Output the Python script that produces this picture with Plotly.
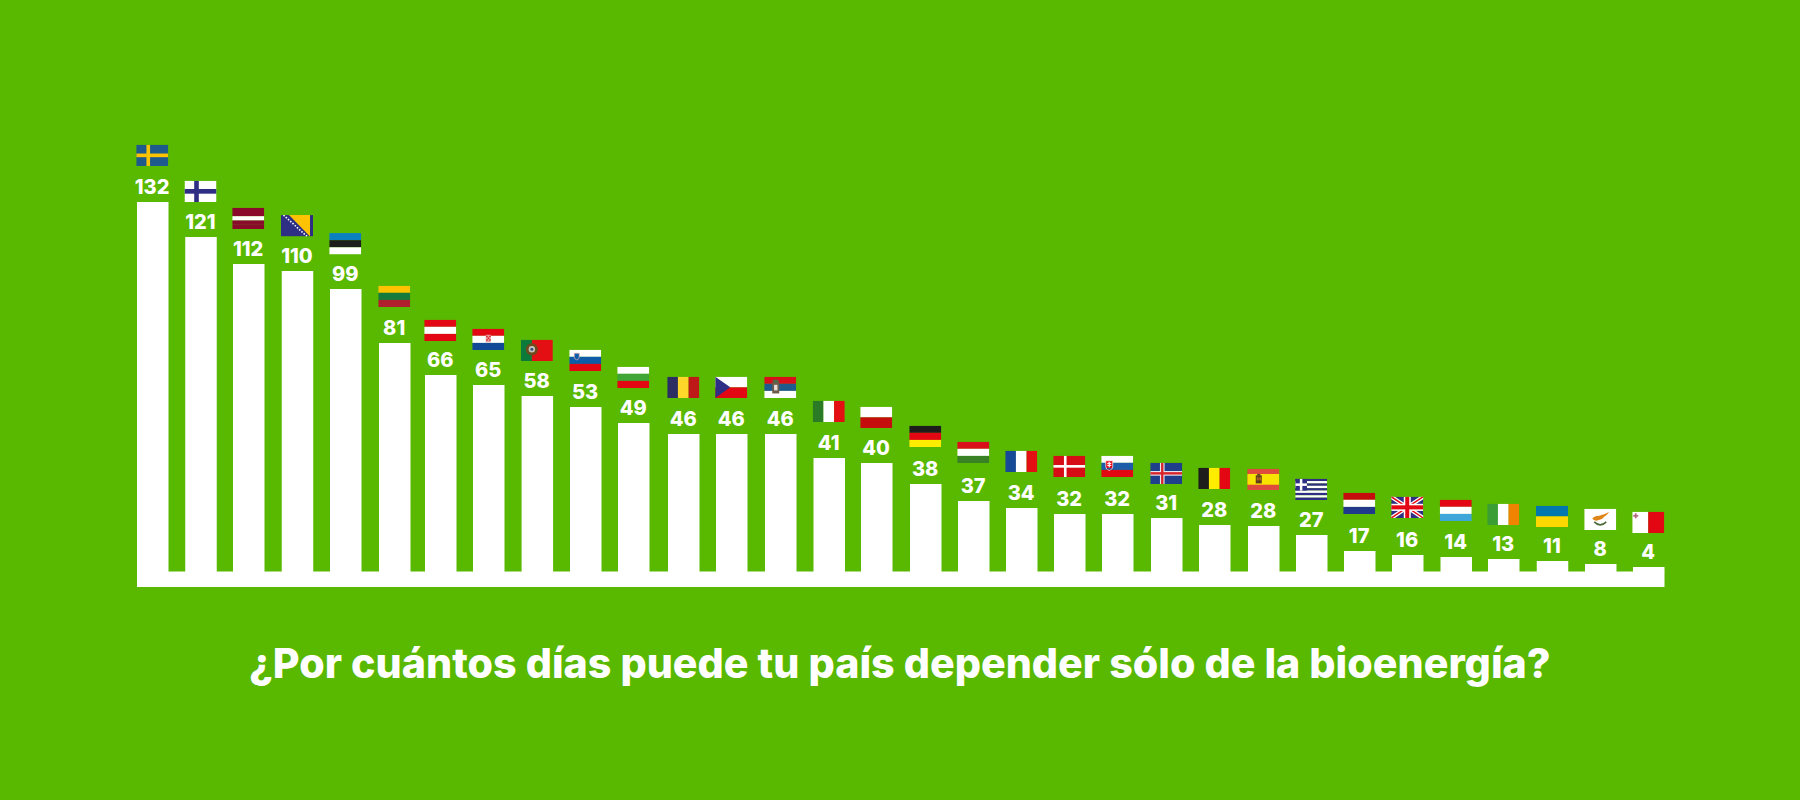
import base64
import plotly.graph_objects as go

# ---- data ----
countries = ["SE", "FI", "LV", "BA", "EE", "LT", "AT", "HR", "PT", "SI", "BG", "RO", "CZ", "RS", "IT", "PL",
             "DE", "HU", "FR", "DK", "SK", "IS", "BE", "ES", "GR", "NL", "GB", "LU", "IE", "UA", "CY", "MT"]
days = [132, 121, 112, 110, 99, 81, 66, 65, 58, 53, 49, 46, 46, 46, 41, 40,
        38, 37, 34, 32, 32, 31, 28, 28, 27, 17, 16, 14, 13, 11, 8, 4]
# the bars of the source are hand-drawn, not to scale: drawn height of each bar
drawn_height = [370, 335, 308, 301, 283, 229, 197, 187, 176, 165, 149, 138, 138, 138, 114, 109,
                88, 71, 64, 58, 58, 54, 47, 46, 37, 21, 17, 15, 13, 11, 8, 5]
title = "¿Por cuántos días puede tu país depender sólo de la bioenergía?"

# ---- hand placement of the source (the slots are not perfectly even) ----
flag_gap = [36, 35, 35, 34.6, 34.6, 36, 34, 35, 35, 36, 35, 36, 36, 36, 36, 35,
            37, 38, 36, 37, 37, 34, 36, 36, 35, 37, 37, 36, 34, 34, 34, 34]
slot_nudge = [0, 0, -0.5, 0, 0, 0.75, -1.5, -1.75, -1.4, -1.25, -1.5, 0.25, 0, 0.75, 1, 0.25,
              1, 0.75, 0.5, 0.25, 0, 0.75, 0.5, 1.25, 1, 0.75, 0.5, 0.75, 0, 0.5, 0.5, 0.25]

GREEN = "#59B800"
WHITE = "#FFFFFF"
W, H = 32, 21


def r(x, y, w, h, c):
    return f'<rect x="{x}" y="{y}" width="{w}" height="{h}" fill="{c}"/>'


def hbands(*cols):
    h = H / len(cols)
    return "".join(r(0, i * h, W, h + 0.05, c) for i, c in enumerate(cols))


def vbands(*cols):
    w = W / len(cols)
    return "".join(r(i * w, 0, w + 0.05, H, c) for i, c in enumerate(cols))


def nordic(bg, cross, thick=4, inner=None):
    s = r(0, 0, W, H, bg)
    cy = H / 2
    s += r(12 - thick / 2, 0, thick, H, cross) + r(0, cy - thick / 2, W, thick, cross)
    if inner:
        s += r(10.8, 0, 2.4, H, inner) + r(0, cy - 1.2, W, 2.4, inner)
    return s


def shield(x, y, w, h, fill, stroke="#ffffff"):
    return (f'<path d="M{x} {y}h{w}v{h * 0.6}q0 {h * 0.3} {-w / 2} {h * 0.4}q{-w / 2} {-h * 0.1} {-w / 2} {-h * 0.4}z" '
            f'fill="{fill}" stroke="{stroke}" stroke-width="0.7"/>')


FLAGS = {
    "SE": nordic("#1F5A8C", "#FDC300", 3.6),
    "FI": nordic("#FFFFFF", "#2E2E84", 4.6),
    "LV": hbands("#8A0A2B", "#8A0A2B", "#FFFFFF", "#8A0A2B", "#8A0A2B"),
    "BA": r(0, 0, W, H, "#2E2E84")
          + '<path d="M8 0H29V21z" fill="#FDC300"/>'
          + '<path d="M2.500 0L26 21" stroke="#fff" stroke-width="1.6" stroke-dasharray="1.5 1.5"/>',
    "EE": hbands("#0A80BF", "#1D1D1B", "#FFFFFF"),
    "LT": hbands("#FDC300", "#157A3C", "#B01F2E"),
    "AT": hbands("#E30613", "#FFFFFF", "#E30613"),
    "HR": hbands("#E30613", "#FFFFFF", "#124A98")
          + r(13.5, 6, 5, 7.5, "#E8A0A0") + r(14, 7, 1.4, 1.4, "#D9101A") + r(17, 7, 1.4, 1.4, "#D9101A")
          + r(15.5, 8.7, 1.4, 1.4, "#D9101A") + r(14, 10.4, 1.4, 1.4, "#D9101A") + r(17, 10.4, 1.4, 1.4, "#D9101A"),
    "PT": r(0, 0, 11, H, "#0B7A3B") + r(11, 0, 21, H, "#E30F13")
          + '<circle cx="11" cy="9.500" r="6" fill="#6E4A1E"/><circle cx="11" cy="9.500" r="3.2" fill="#C8C4BC"/>'
          + '<circle cx="11" cy="9.500" r="1.5" fill="#3E4E74"/>',
    "SI": hbands("#FFFFFF", "#0E5BA8", "#E30613") + shield(5, 3.5, 5, 6.5, "#0E5BA8", "#E8B0B0"),
    "BG": hbands("#FFFFFF", "#3FA535", "#E30613"),
    "RO": vbands("#2B2D63", "#FDD82B", "#BE1818"),
    "CZ": hbands("#FFFFFF", "#E30613")
          + '<path d="M0 0L15 10.5L0 21z" fill="#2E2E84"/>',
    "RS": hbands("#D9101A", "#1F5A8C", "#FFFFFF")
          + r(8, 4.5, 7, 12, "#6D5A4A") + r(9.8, 8, 3.4, 5.5, "#E8DCD8") + r(9, 3, 5, 2.5, "#4E6A4A"),
    "IT": vbands("#2B7A26", "#FFFFFF", "#E30F13"),
    "PL": hbands("#FFFFFF", "#C60D0D"),
    "DE": hbands("#1D1D1B", "#E30613", "#FFED00"),
    "HU": hbands("#D9101A", "#FFFFFF", "#3A8025"),
    "FR": vbands("#174A96", "#FFFFFF", "#E30F13"),
    "DK": nordic("#D60D14", "#FFFFFF", 2.6),
    "SK": hbands("#FFFFFF", "#1D5CA8", "#E30613") + shield(4.5, 5, 7, 9.5, "#E30613")
          + r(7.4, 6, 1.2, 5.5, "#fff") + r(6, 7, 4, 1.1, "#fff") + r(6, 9, 4, 1.1, "#fff")
          + r(6, 12, 4, 1.6, "#1D5CA8"),
    "IS": nordic("#1F3F8C", "#E8E8F0", 4.6, "#D9242C"),
    "BE": vbands("#1D1D1B", "#FFED00", "#E30613"),
    "ES": r(0, 0, W, H, "#DE4A3C") + r(0, 5.2, W, 10.6, "#F8E300")
          + r(8.5, 6.5, 6, 8, "#5E3E1E") + r(9.5, 8.5, 1.8, 3, "#B5651D") + r(12, 8.5, 1.8, 3, "#B5651D")
          + r(10, 5.2, 3, 1.5, "#5E3E1E"),
    "GR": "".join(r(0, i * H / 9, W, H / 9 + 0.05, "#2E2E84" if i % 2 == 0 else "#FFFFFF") for i in range(9))
          + r(0, 0, 11.7, 11.7, "#2E2E84") + r(4.6, 0, 2.5, 11.7, "#fff") + r(0, 4.6, 11.7, 2.5, "#fff"),
    "NL": hbands("#C60D0D", "#FFFFFF", "#20398A"),
    "GB": r(0, 0, W, H, "#2E2E84")
          + '<path d="M0 0L32 21M32 0L0 21" stroke="#fff" stroke-width="4"/>'
          + '<path d="M0 0L32 21M32 0L0 21" stroke="#E30613" stroke-width="1.4"/>'
          + r(12.5, 0, 7, H, "#fff") + r(0, 7, W, 7, "#fff")
          + r(14, 0, 4, H, "#E30613") + r(0, 8.5, W, 4, "#E30613"),
    "LU": hbands("#E30613", "#FFFFFF", "#3EA6D8"),
    "IE": vbands("#3A9E35", "#FFFFFF", "#F08300"),
    "UA": hbands("#0078AE", "#FFD800"),
    "CY": r(0, 0, W, H, "#FFFFFF")
          + '<path d="M8 10q2-3 7-3q5-1 10-4q-2 3-5 5q-2 3-6 3.500q-4 1-6-1.500z" fill="#E08518"/>'
          + '<path d="M10 13q6 6 12 0" stroke="#4A6A3A" stroke-width="1.6" fill="none"/>',
    "MT": r(0, 0, 16, H, "#FFFFFF") + r(16, 0, 16, H, "#E30613")
          + r(2.6, 1.500, 1.700, 5, "#B06A80") + r(1, 3.200, 5, 1.700, "#B06A80"),
}


def flag_uri(code):
    svg = (f'<svg xmlns="http://www.w3.org/2000/svg" width="{W}" height="{H}" '
           f'viewBox="0 0 {W} {H}" preserveAspectRatio="none">{FLAGS[code]}</svg>')
    return "data:image/svg+xml;base64," + base64.b64encode(svg.encode()).decode()


SLOT = 48.25
BAR_W = 31.5 / SLOT
positions = [i + n / SLOT for i, n in enumerate(slot_nudge)]

fig = go.Figure()
fig.add_trace(go.Bar(x=positions, y=drawn_height, width=BAR_W,
                     marker=dict(color=WHITE, line=dict(width=0)), hoverinfo="skip"))
fig.add_trace(go.Scatter(x=[p - 0.6 / SLOT for p in positions], y=[h + 13 for h in drawn_height], mode="text",
                         text=[str(d) for d in days], textposition="middle center",
                         textfont=dict(family="Inter", size=20, color=WHITE, weight=800),
                         hoverinfo="skip"))

images = [dict(source=flag_uri(c), xref="x", yref="y", x=p - 0.5 / SLOT, y=h + g, sizex=32 / SLOT, sizey=21.3,
               xanchor="center", yanchor="bottom", sizing="stretch", layer="above")
          for c, p, h, g in zip(countries, positions, drawn_height, flag_gap)]

fig.update_layout(
    width=1800, height=800, autosize=False,
    margin=dict(l=0, r=0, t=0, b=0),
    paper_bgcolor=GREEN, plot_bgcolor=GREEN,
    showlegend=False,
    xaxis=dict(range=[-3.1658, 34.1399], visible=False, fixedrange=True),
    yaxis=dict(range=[-228, 572], visible=False, fixedrange=True),
    images=images,
    shapes=[dict(type="rect", xref="x", yref="y", x0=-BAR_W / 2, x1=len(days) - 1 + BAR_W / 2 + slot_nudge[-1] / SLOT,
                 y0=-15, y1=0.5, fillcolor=WHITE, line=dict(width=0), layer="below")],
    annotations=[dict(text=title, xref="paper", yref="y", x=0.5, y=-90.5, showarrow=False,
                      xanchor="center", yanchor="middle",
                      font=dict(family="Inter", size=41.2, color=WHITE, weight=800))],
)

fig.write_html("out.html", config={"displayModeBar": False},
               post_script=f"document.body.style.margin='0';document.body.style.background='{GREEN}';")
